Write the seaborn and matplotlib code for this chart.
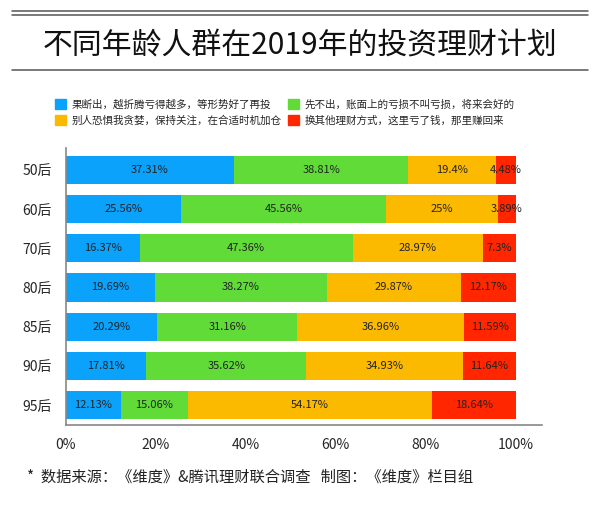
import numpy as np
import pandas as pd
import matplotlib
matplotlib.use("Agg")
import matplotlib.pyplot as plt
import seaborn as sns
from matplotlib.patches import Patch
from matplotlib.lines import Line2D

groups = ["50后", "60后", "70后", "80后", "85后", "90后", "95后"]
series = [
    "果断出，越折腾亏得越多，等形势好了再投",
    "先不出，账面上的亏损不叫亏损，将来会好的",
    "别人恐惧我贪婪，保持关注，在合适时机加仓",
    "换其他理财方式，这里亏了钱，那里赚回来",
]
sell = [37.31, 25.56, 16.37, 19.69, 20.29, 17.81, 12.13]
hold = [38.81, 45.56, 47.36, 38.27, 31.16, 35.62, 15.06]
add = [19.4, 25, 28.97, 29.87, 36.96, 34.93, 54.17]
switch = [4.48, 3.89, 7.3, 12.17, 11.59, 11.64, 18.64]
colors = ["#0AA2FB", "#60DB38", "#FBBA00", "#FF2600"]

sns.set_theme(style="white")
plt.rcParams['font.family'] = ['Noto Sans CJK SC', 'DejaVu Sans']

vals = np.array([sell, hold, add, switch])
cum = vals.cumsum(axis=0)

fig = plt.figure(figsize=(6, 5.13), dpi=100)
ax = fig.add_axes([0.11, 0.1715, 0.793, 0.54])

# stacked: draw cumulative totals from the back
for i in range(3, -1, -1):
    df = pd.DataFrame({"group": groups, "value": cum[i]})
    sns.barplot(data=df, x="value", y="group", color=colors[i], orient="h",
                width=0.72, saturation=1, ax=ax, edgecolor="none")

for i in range(4):
    for j in range(len(groups)):
        v = vals[i][j]
        ax.text(cum[i][j] - v / 2, j, f"{v:g}%", ha="center", va="center",
                fontsize=8, color="#222222")

ax.set_xlim(0, 105.8)
ax.set_ylim(6.51, -0.56)
ax.set_xticks([0, 20, 40, 60, 80, 100])
ax.set_xticklabels(["0%", "20%", "40%", "60%", "80%", "100%"], fontsize=10)
ax.tick_params(axis="y", labelsize=10, pad=4)
ax.set_xlabel("")
ax.set_ylabel("")
for s in ["top", "right"]:
    ax.spines[s].set_visible(False)
for s in ["left", "bottom"]:
    ax.spines[s].set_color("#888888")
    ax.spines[s].set_linewidth(1.2)

handles = [Patch(color=colors[k]) for k in [0, 2, 1, 3]]
labels = [series[k] for k in [0, 2, 1, 3]]
fig.legend(handles, labels, ncol=2, loc="upper left", bbox_to_anchor=(0.075, 0.826),
           frameon=False, fontsize=7.6, handlelength=1.1, handleheight=1.1,
           handletextpad=0.5, columnspacing=0.6, labelspacing=0.5)

# header lines and title
for y in [0.979, 0.971, 0.864]:
    fig.add_artist(Line2D([0.02, 0.98], [y, y], color="#555555", lw=1.1,
                          transform=fig.transFigure))
fig.text(0.5, 0.913, "不同年龄人群在2019年的投资理财计划", ha="center", va="center",
         fontsize=21.5, color="#111111")

fig.text(0.045, 0.07, "*  数据来源：《维度》&腾讯理财联合调查   制图：《维度》栏目组",
         ha="left", va="center", fontsize=11, color="#222222")

fig.savefig("out.png", dpi=100)
